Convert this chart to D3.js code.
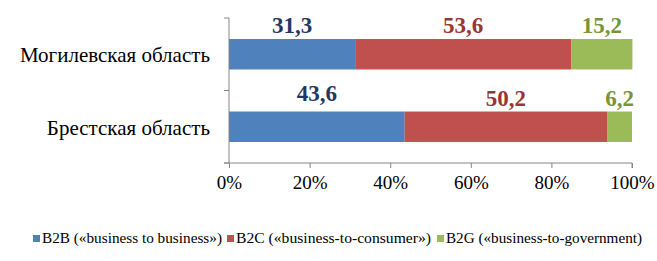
<!DOCTYPE html>
<html>
<head>
<meta charset="utf-8">
<script src="https://cdn.jsdelivr.net/npm/d3@7"></script>
<style>
  body { margin: 0; background: #fff; }
  svg { display: block; }
  text { font-family: 'Liberation Serif', 'Times New Roman', serif; }
</style>
</head>
<body>
<script>
var regions = ['Могилевская область', 'Брестская область'];
var seriesNames = ['B2B («business to business»)', 'B2C («business-to-consumer»)', 'B2G («business-to-government)'];
var b2b = [31.3, 43.6];
var b2c = [53.6, 50.2];
var b2g = [15.2, 6.2];
var xTicks = [0, 20, 40, 60, 80, 100];

var barColors = ['#4F81BD', '#C0504D', '#9BBB59'];
var labelColors = ['#1F3864', '#953735', '#77933C'];

var width = 657;
var height = 261;
var plotLeft = 229, plotRight = 632, plotTop = 18, plotBottom = 163;

var svg = d3.select('body').append('svg')
  .attr('width', width)
  .attr('height', height);

var x = d3.scaleLinear().domain([0, 100]).range([plotLeft, plotRight]);
var y = d3.scaleBand().domain(regions).range([plotTop, plotBottom]).paddingInner(0.58).paddingOuter(0.29);

var values = [b2b, b2c, b2g];
var stacks = regions.map(function(r, i) {
  var start = 0;
  return values.map(function(s, k) {
    var seg = {region: r, row: i, k: k, v: s[i], x0: start, x1: start + s[i]};
    start += s[i];
    return seg;
  });
});
var segs = d3.merge(stacks);

svg.selectAll('rect.bar').data(segs).enter().append('rect')
  .attr('class', 'bar')
  .attr('x', function(d) { return x(d.x0); })
  .attr('y', function(d) { return y(d.region); })
  .attr('width', function(d) { return x(d.x1) - x(d.x0); })
  .attr('height', y.bandwidth())
  .attr('fill', function(d) { return barColors[d.k]; });

svg.selectAll('text.val').data(segs).enter().append('text')
  .attr('class', 'val')
  .attr('x', function(d) { return (x(d.x0) + x(d.x1)) / 2; })
  .attr('y', function(d) {
    // the first label of the lower bar sits a bit higher in the original
    return y(d.region) - (d.row == 1 && d.k == 0 ? 11 : 6);
  })
  .attr('text-anchor', 'middle')
  .attr('font-weight', 'bold')
  .attr('font-size', 23)
  .attr('fill', function(d) { return labelColors[d.k]; })
  .text(function(d) { return String(d.v).replace('.', ','); });

// left axis
var yEdges = d3.scaleLinear().domain([0, regions.length]).range([plotTop, plotBottom]);
svg.append('line')
  .attr('x1', plotLeft).attr('x2', plotLeft)
  .attr('y1', plotTop).attr('y2', plotBottom)
  .attr('stroke', '#868686');
svg.selectAll('line.ytick').data(d3.range(regions.length + 1)).enter().append('line')
  .attr('x1', plotLeft - 5).attr('x2', plotLeft)
  .attr('y1', function(d) { return yEdges(d); })
  .attr('y2', function(d) { return yEdges(d); })
  .attr('stroke', '#868686');

svg.selectAll('text.cat').data(regions).enter().append('text')
  .attr('class', 'cat')
  .attr('x', 210)
  .attr('y', function(d) { return y(d) + y.bandwidth() / 2 + 8; })
  .attr('text-anchor', 'end')
  .attr('font-size', 21)
  .attr('fill', '#000')
  .text(function(d) { return d; });

// bottom axis
var xAxis = d3.axisBottom(x).tickValues(xTicks).tickSize(5)
  .tickFormat(function(d) { return d + '%'; });
var gx = svg.append('g').attr('transform', 'translate(0,' + plotBottom + ')').call(xAxis);
gx.attr('font-family', null);
gx.select('.domain').attr('stroke', '#868686').attr('d', 'M' + (plotLeft - 5) + ',0H' + plotRight + 'V5');
gx.selectAll('.tick line').attr('stroke', '#868686');
gx.selectAll('.tick text')
  .attr('font-size', 19)
  .attr('fill', '#000')
  .attr('dy', '0.95em');

// legend
var legendX = [33, 227, 437];
var legendLen = [180, 195, 196];
var legend = svg.selectAll('g.leg').data(seriesNames).enter().append('g')
  .attr('class', 'leg')
  .attr('transform', function(d, i) { return 'translate(' + legendX[i] + ',243)'; });
legend.append('rect')
  .attr('x', 0).attr('y', -8)
  .attr('width', 7).attr('height', 7)
  .attr('fill', function(d, i) { return barColors[i]; });
legend.append('text')
  .attr('x', 9).attr('y', 0)
  .attr('font-size', 14)
  .attr('fill', '#000')
  .attr('textLength', function(d, i) { return legendLen[i]; })
  .attr('lengthAdjust', 'spacingAndGlyphs')
  .text(function(d) { return d; });
</script>
</body>
</html>
